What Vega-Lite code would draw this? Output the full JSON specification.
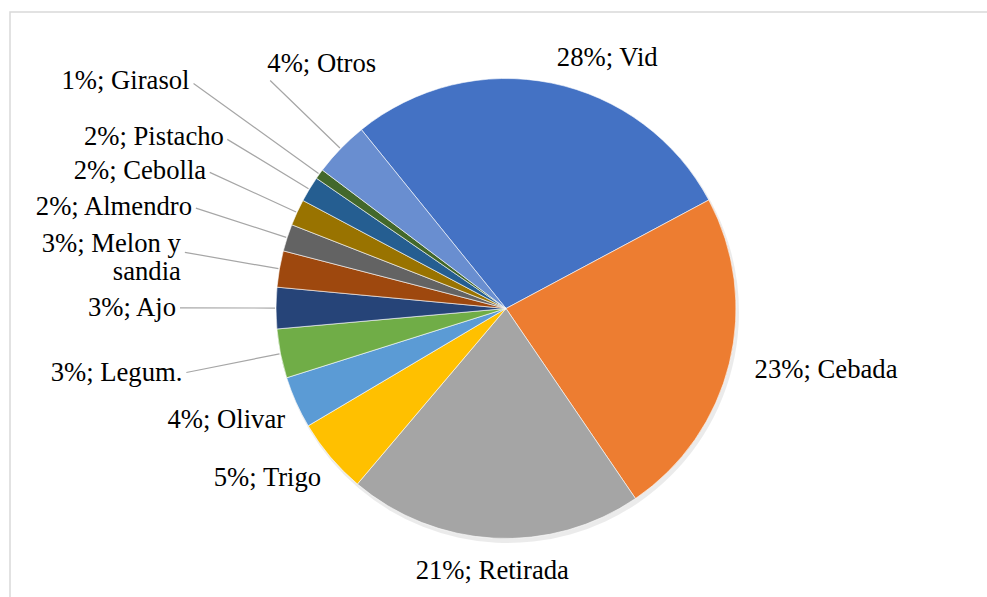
{
  "$schema": "https://vega.github.io/schema/vega-lite/v6.json",
  "width": 987,
  "height": 595,
  "padding": {"left": 10, "top": 12, "right": -10, "bottom": -10},
  "autosize": {"type": "none"},
  "background": "#ffffff",
  "view": {"stroke": "#d9d9d9", "strokeWidth": 1.5, "fill": "#ffffff"},
  "config": {
    "font": "Liberation Serif",
    "view": {"stroke": "#d9d9d9", "strokeWidth": 1.5}
  },
  "data": {
    "values": [
      {"id": 1, "crop": "Vid", "value": 28.0, "label": "28%; Vid"},
      {"id": 2, "crop": "Cebada", "value": 23.3, "label": "23%; Cebada"},
      {"id": 3, "crop": "Retirada", "value": 20.7, "label": "21%; Retirada"},
      {"id": 4, "crop": "Trigo", "value": 5.3, "label": "5%; Trigo"},
      {"id": 5, "crop": "Olivar", "value": 3.65, "label": "4%; Olivar"},
      {"id": 6, "crop": "Legum.", "value": 3.45, "label": "3%; Legum."},
      {"id": 7, "crop": "Ajo", "value": 2.9, "label": "3%; Ajo"},
      {"id": 8, "crop": "Melon y sandia", "value": 2.55, "label": "3%; Melon y\nsandia"},
      {"id": 9, "crop": "Almendro", "value": 1.9, "label": "2%; Almendro"},
      {"id": 10, "crop": "Cebolla", "value": 1.85, "label": "2%; Cebolla"},
      {"id": 11, "crop": "Pistacho", "value": 1.8, "label": "2%; Pistacho"},
      {"id": 12, "crop": "Girasol", "value": 0.7, "label": "1%; Girasol"},
      {"id": 13, "crop": "Otros", "value": 3.9, "label": "4%; Otros"}
    ]
  },
  "transform": [
    {"stack": "value", "groupby": [], "sort": [{"field": "id", "order": "ascending"}], "as": ["v0", "v1"]},
    {"calculate": "(datum.v0 + datum.v1) / 2", "as": "vmid"}
  ],
  "layer": [
    {
      "mark": {"type": "arc", "radius": 231, "fill": "#000000", "opacity": 0.08, "xOffset": 4.5, "yOffset": 2.5},
      "encoding": {
        "theta": {"field": "v0", "type": "quantitative", "scale": {"domain": [0, 100], "range": [-0.6798, 5.6034]}},
        "theta2": {"field": "v1"}
      }
    },
    {
      "mark": {"type": "arc", "radius": 230, "stroke": "#ffffff", "strokeWidth": 0.6, "xOffset": 2.5, "yOffset": -1},
      "encoding": {
        "theta": {"field": "v0", "type": "quantitative", "scale": {"domain": [0, 100], "range": [-0.6798, 5.6034]}},
        "theta2": {"field": "v1"},
        "color": {
          "field": "crop", "type": "nominal", "legend": null,
          "scale": {
            "domain": ["Vid", "Cebada", "Retirada", "Trigo", "Olivar", "Legum.", "Ajo", "Melon y sandia", "Almendro", "Cebolla", "Pistacho", "Girasol", "Otros"],
            "range": ["#4472C4", "#ED7D31", "#A5A5A5", "#FFC000", "#5B9BD5", "#70AD47", "#264478", "#9E480E", "#636363", "#997300", "#255E91", "#43682B", "#698ED0"]
          }
        }
      }
    },
    {
      "transform": [{"filter": {"field": "crop", "oneOf": ["Legum.", "Ajo", "Melon y sandia", "Almendro", "Cebolla", "Pistacho"]}}],
      "mark": {"type": "arc", "radius": 326, "radius2": 231, "filled": false, "fill": null, "stroke": "#a6a6a6", "strokeWidth": 1.2, "xOffset": 2.5, "yOffset": -1},
      "encoding": {
        "theta": {"field": "vmid", "type": "quantitative", "scale": {"domain": [0, 100], "range": [-0.6798, 5.6034]}},
        "theta2": {"field": "vmid"}
      }
    },
    {
      "transform": [{"filter": {"field": "crop", "equal": "Girasol"}}],
      "mark": {"type": "arc", "radius": 385, "radius2": 231, "filled": false, "fill": null, "stroke": "#a6a6a6", "strokeWidth": 1.2, "xOffset": 2.5, "yOffset": -1},
      "encoding": {
        "theta": {"field": "vmid", "type": "quantitative", "scale": {"domain": [0, 100], "range": [-0.6798, 5.6034]}},
        "theta2": {"field": "vmid"}
      }
    },
    {
      "transform": [{"filter": {"field": "crop", "equal": "Otros"}}],
      "mark": {"type": "arc", "radius": 328, "radius2": 231, "filled": false, "fill": null, "stroke": "#a6a6a6", "strokeWidth": 1.2, "xOffset": 2.5, "yOffset": -1},
      "encoding": {
        "theta": {"field": "vmid", "type": "quantitative", "scale": {"domain": [0, 100], "range": [-0.6798, 5.6034]}},
        "theta2": {"field": "vmid"}
      }
    },
    {
      "transform": [{"filter": {"field": "crop", "oneOf": ["Vid", "Cebada"]}}],
      "mark": {"type": "text", "font": "Liberation Serif", "fontSize": 26.67, "fill": "#000000", "radius": 256, "align": "left", "baseline": "middle", "lineBreak": "\n", "xOffset": 2.5, "yOffset": -1},
      "encoding": {
        "theta": {"field": "vmid", "type": "quantitative", "stack": null, "scale": {"domain": [0, 100], "range": [-0.6798, 5.6034]}},
        "text": {"field": "label", "type": "nominal"}
      }
    },
    {
      "transform": [{"filter": {"field": "crop", "equal": "Retirada"}}],
      "mark": {"type": "text", "font": "Liberation Serif", "fontSize": 26.67, "fill": "#000000", "radius": 263, "align": "center", "baseline": "middle", "lineBreak": "\n", "xOffset": 2.5, "yOffset": -1},
      "encoding": {
        "theta": {"field": "vmid", "type": "quantitative", "stack": null, "scale": {"domain": [0, 100], "range": [-0.6798, 5.6034]}},
        "text": {"field": "label", "type": "nominal"}
      }
    },
    {
      "transform": [{"filter": {"field": "crop", "oneOf": ["Trigo", "Olivar"]}}],
      "mark": {"type": "text", "font": "Liberation Serif", "fontSize": 26.67, "fill": "#000000", "radius": 242, "align": "right", "baseline": "top", "lineBreak": "\n", "xOffset": 2.5, "yOffset": -1},
      "encoding": {
        "theta": {"field": "vmid", "type": "quantitative", "stack": null, "scale": {"domain": [0, 100], "range": [-0.6798, 5.6034]}},
        "text": {"field": "label", "type": "nominal"}
      }
    },
    {
      "transform": [{"filter": {"field": "crop", "oneOf": ["Legum.", "Ajo", "Almendro", "Cebolla", "Pistacho"]}}],
      "mark": {"type": "text", "font": "Liberation Serif", "fontSize": 26.67, "fill": "#000000", "radius": 330, "align": "right", "baseline": "middle", "lineBreak": "\n", "xOffset": 2.5, "yOffset": -1},
      "encoding": {
        "theta": {"field": "vmid", "type": "quantitative", "stack": null, "scale": {"domain": [0, 100], "range": [-0.6798, 5.6034]}},
        "text": {"field": "label", "type": "nominal"}
      }
    },
    {
      "transform": [{"filter": {"field": "crop", "equal": "Melon y sandia"}}],
      "mark": {"type": "text", "font": "Liberation Serif", "fontSize": 26.67, "fill": "#000000", "radius": 330, "align": "right", "baseline": "middle", "lineBreak": "\n", "lineHeight": 28, "dy": -8, "xOffset": 2.5, "yOffset": -1},
      "encoding": {
        "theta": {"field": "vmid", "type": "quantitative", "stack": null, "scale": {"domain": [0, 100], "range": [-0.6798, 5.6034]}},
        "text": {"field": "label", "type": "nominal"}
      }
    },
    {
      "transform": [{"filter": {"field": "crop", "equal": "Girasol"}}],
      "mark": {"type": "text", "font": "Liberation Serif", "fontSize": 26.67, "fill": "#000000", "radius": 390, "align": "right", "baseline": "middle", "lineBreak": "\n", "xOffset": 2.5, "yOffset": -1},
      "encoding": {
        "theta": {"field": "vmid", "type": "quantitative", "stack": null, "scale": {"domain": [0, 100], "range": [-0.6798, 5.6034]}},
        "text": {"field": "label", "type": "nominal"}
      }
    },
    {
      "transform": [{"filter": {"field": "crop", "equal": "Otros"}}],
      "mark": {"type": "text", "font": "Liberation Serif", "fontSize": 26.67, "fill": "#000000", "radius": 332, "align": "left", "baseline": "bottom", "lineBreak": "\n", "xOffset": 2.5, "yOffset": -1},
      "encoding": {
        "theta": {"field": "vmid", "type": "quantitative", "stack": null, "scale": {"domain": [0, 100], "range": [-0.6798, 5.6034]}},
        "text": {"field": "label", "type": "nominal"}
      }
    }
  ]
}
